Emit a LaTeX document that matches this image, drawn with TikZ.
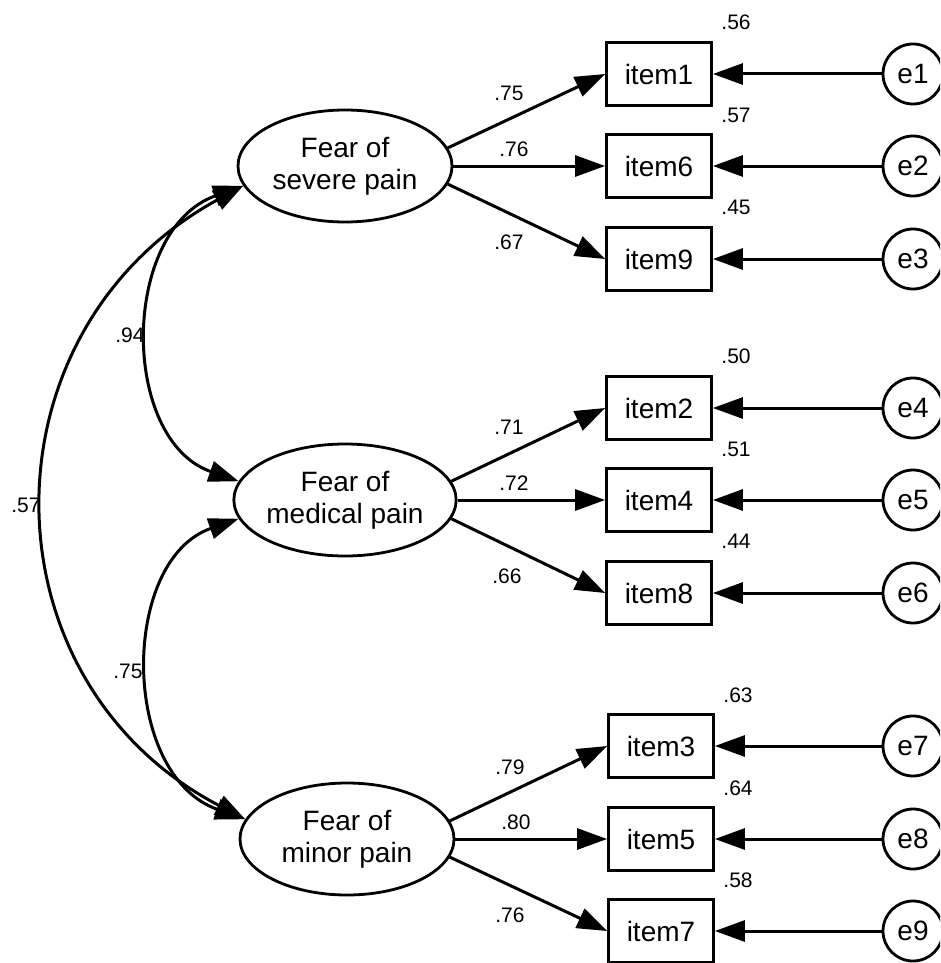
\documentclass[tikz,border=0pt]{standalone}
\usepackage{fontspec}
\setmainfont{Liberation Sans}
\usetikzlibrary{arrows.meta,shapes.geometric}
\begin{document}
\begin{tikzpicture}[x=1pt,y=-1pt,
  lat/.style={draw, ellipse, line width=2.8pt, minimum width=214pt, minimum height=112pt, inner sep=0pt, align=center, font=\fontsize{28}{32}\selectfont},
  obs/.style={draw, rectangle, line width=2.8pt, minimum width=105pt, minimum height=63pt, inner sep=0pt, font=\fontsize{28}{32}\selectfont},
  err/.style={draw, circle, line width=2.8pt, minimum size=60pt, inner sep=0pt, font=\fontsize{28}{32}\selectfont},
  num/.style={font=\fontsize{21}{24}\selectfont, inner sep=0pt},
  arr/.style={line width=3pt, -{Triangle[length=30pt,width=21pt]}},
  cov/.style={line width=3pt, {Triangle[length=30pt,width=21pt]}-{Triangle[length=30pt,width=21pt]}},
]
\useasboundingbox (0,0) rectangle (940,963);
\clip (0,0) rectangle (940,963);

% latent factors
\node[lat] (F1) at (345,166) {Fear of\\severe pain};
\node[lat] (F2) at (345,500) {Fear of\\medical pain};
\node[lat] (F3) at (347,839) {Fear of\\minor pain};

% observed items
\node[obs] (i1) at (659,74)  {item1};
\node[obs] (i6) at (659,166) {item6};
\node[obs] (i9) at (659,259) {item9};
\node[obs] (i2) at (659,408) {item2};
\node[obs] (i4) at (659,500) {item4};
\node[obs] (i8) at (659,593) {item8};
\node[obs] (i3) at (661,746) {item3};
\node[obs] (i5) at (661,839) {item5};
\node[obs] (i7) at (661,931) {item7};

% errors
\node[err] (e1) at (913,74)  {e1};
\node[err] (e2) at (913,166) {e2};
\node[err] (e3) at (913,259) {e3};
\node[err] (e4) at (913,408) {e4};
\node[err] (e5) at (913,500) {e5};
\node[err] (e6) at (913,593) {e6};
\node[err] (e7) at (913,746) {e7};
\node[err] (e8) at (913,839) {e8};
\node[err] (e9) at (913,931) {e9};

% loadings
\draw[arr] (F1.10) -- (i1.west);
\draw[arr] (F1.east) -- (i6.west);
\draw[arr] (F1.-10) -- (i9.west);
\draw[arr] (F2.10) -- (i2.west);
\draw[arr] (F2.east) -- (i4.west);
\draw[arr] (F2.-10) -- (i8.west);
\draw[arr] (F3.10) -- (i3.west);
\draw[arr] (F3.east) -- (i5.west);
\draw[arr] (F3.-10) -- (i7.west);

% error paths
\draw[arr] (e1.west) -- (i1.east);
\draw[arr] (e2.west) -- (i6.east);
\draw[arr] (e3.west) -- (i9.east);
\draw[arr] (e4.west) -- (i2.east);
\draw[arr] (e5.west) -- (i4.east);
\draw[arr] (e6.west) -- (i8.east);
\draw[arr] (e7.west) -- (i3.east);
\draw[arr] (e8.west) -- (i5.east);
\draw[arr] (e9.west) -- (i7.east);

% covariances
\draw[cov] (F1.191.5) .. controls (120,230) and (120,440) .. (F2.170);
\draw[cov] (F2.190) .. controls (120,560) and (120,775) .. (F3.169);
\draw[cov] (F1.191.5) .. controls (-21,330) and (-21,680) .. (F3.169);

% covariance labels
\node[num] (c94) at (130,335) {.94};
\node[num] (c57) at (26,505) {.57};
\node[num] (c75) at (128,671) {.75};

% loading labels
\node[num] (l1) at (509,93)  {.75};
\node[num] (l6) at (514,149) {.76};
\node[num] (l9) at (509,242) {.67};
\node[num] (l2) at (509,427) {.71};
\node[num] (l4) at (514,483) {.72};
\node[num] (l8) at (507,576) {.66};
\node[num] (l3) at (510,767) {.79};
\node[num] (l5) at (516,822) {.80};
\node[num] (l7) at (510,915) {.76};

% squared multiple correlations
\node[num] (r1) at (736,22)  {.56};
\node[num] (r6) at (736,115) {.57};
\node[num] (r9) at (736,207) {.45};
\node[num] (r2) at (736,356) {.50};
\node[num] (r4) at (736,449) {.51};
\node[num] (r8) at (736,541) {.44};
\node[num] (r3) at (738,695) {.63};
\node[num] (r5) at (738,788) {.64};
\node[num] (r7) at (738,880) {.58};
\end{tikzpicture}
\end{document}
